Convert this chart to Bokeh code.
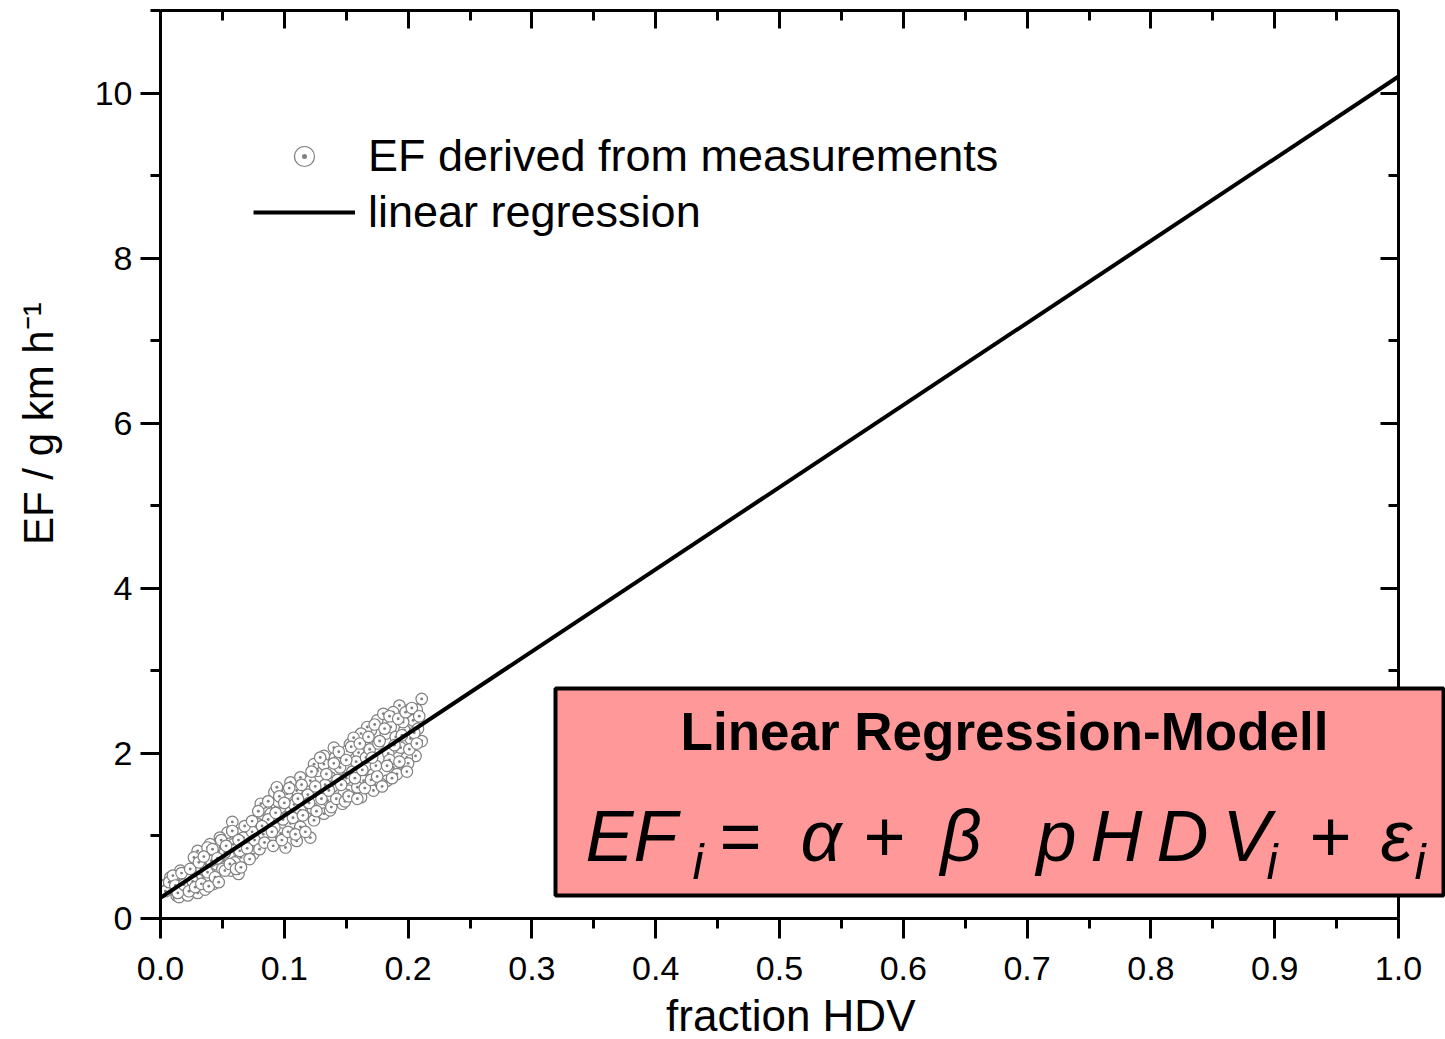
from bokeh.plotting import figure
from bokeh.models import (Range1d, LinearAxis, SingleIntervalTicker, PrintfTickFormatter,
                          CustomJSTickFormatter, BoxAnnotation, Label, Legend, LegendItem)
from bokeh.embed import file_html
from bokeh.resources import INLINE

# ---------------- data ----------------
meas_x = [0.211, 0.211, 0.206, 0.195, 0.207, 0.199, 0.193, 0.188, 0.182, 0.170, 0.160, 0.132,
          0.141, 0.147, 0.121, 0.110, 0.101, 0.105, 0.092, 0.085, 0.058, 0.054, 0.043, 0.057,
          0.063, 0.026, 0.008, 0.009, 0.013, 0.027, 0.035, 0.030, 0.040, 0.048, 0.069, 0.071,
          0.081, 0.089, 0.075, 0.097, 0.101, 0.113, 0.123, 0.118, 0.127, 0.137, 0.145, 0.132,
          0.135, 0.152, 0.162, 0.164, 0.172, 0.183, 0.188, 0.188, 0.194, 0.175, 0.180, 0.167,
          0.153, 0.151, 0.140, 0.124, 0.113, 0.094, 0.081, 0.070, 0.062, 0.048, 0.038, 0.027,
          0.016, 0.011, 0.019, 0.040, 0.032, 0.051, 0.065, 0.078, 0.086, 0.105, 0.113, 0.124,
          0.137, 0.148, 0.159, 0.172, 0.178, 0.191, 0.199, 0.204, 0.197, 0.186, 0.162, 0.156,
          0.145, 0.132, 0.121, 0.110, 0.102, 0.097, 0.089, 0.078, 0.067, 0.059, 0.043, 0.032,
          0.022, 0.005, 0.024, 0.016, 0.030, 0.012, 0.018, 0.021, 0.025, 0.029, 0.034, 0.037,
          0.045, 0.050, 0.055, 0.060, 0.066, 0.073, 0.083, 0.092, 0.099, 0.108, 0.116, 0.128,
          0.139, 0.143, 0.155, 0.158, 0.166, 0.169, 0.176, 0.184, 0.190, 0.196, 0.202, 0.208,
          0.200, 0.185, 0.174, 0.150, 0.133, 0.119, 0.095, 0.087, 0.074, 0.064, 0.052, 0.041,
          0.033, 0.020, 0.015, 0.006, 0.015, 0.022, 0.030, 0.036,
          0.004, 0.007, 0.010, 0.012, 0.014, 0.017, 0.019, 0.023, 0.024, 0.026, 0.028, 0.031,
          0.033, 0.035, 0.038, 0.039, 0.042, 0.044, 0.046, 0.047, 0.049, 0.052, 0.053, 0.056,
          0.058, 0.061, 0.063, 0.065, 0.068, 0.070, 0.072, 0.074, 0.076, 0.079, 0.080, 0.082,
          0.084, 0.087, 0.090, 0.091, 0.093, 0.096, 0.098, 0.100, 0.103, 0.104, 0.107, 0.109,
          0.111, 0.114, 0.115, 0.117, 0.120, 0.122, 0.125, 0.126, 0.129, 0.130, 0.134, 0.136,
          0.138, 0.140, 0.142, 0.144, 0.146, 0.149, 0.150, 0.152, 0.154, 0.157, 0.159, 0.161,
          0.163, 0.165, 0.168, 0.170, 0.171, 0.173, 0.175, 0.177, 0.179, 0.181, 0.183, 0.185,
          0.187, 0.189, 0.192, 0.193, 0.195, 0.198, 0.199, 0.201, 0.203, 0.205, 0.207, 0.209]
meas_y = [2.66, 2.15, 1.97, 1.82, 2.53, 2.52, 2.58, 2.50, 2.24, 2.28, 2.01, 1.97,
          1.95, 1.39, 0.98, 0.94, 0.86, 1.65, 1.53, 1.35, 1.17, 1.04, 0.42, 0.58,
          0.54, 0.58, 0.50, 0.38, 0.28, 0.34, 0.46, 0.82, 0.90, 0.86, 0.80, 1.04,
          1.19, 0.94, 0.78, 1.03, 1.29, 1.31, 1.33, 1.67, 1.79, 1.71, 1.83, 1.27,
          1.43, 1.55, 1.47, 1.67, 1.75, 1.67, 1.83, 2.07, 2.07, 2.40, 2.48, 2.32,
          2.11, 2.03, 2.07, 1.87, 1.71, 1.59, 1.39, 1.11, 1.03, 0.98, 0.86, 0.74,
          0.58, 0.46, 0.30, 0.62, 0.54, 0.70, 0.74, 0.90, 1.07, 1.15, 1.11, 1.19,
          1.31, 1.51, 1.59, 1.55, 1.63, 1.75, 1.95, 2.40, 2.28, 2.32, 2.24, 2.19,
          1.95, 1.87, 1.67, 1.55, 1.51, 1.35, 1.27, 1.15, 0.98, 0.90, 0.78, 0.66,
          0.50, 0.42, 0.42, 0.38, 0.46, 0.34, 0.44, 0.36, 0.48, 0.40, 0.52, 0.44,
          0.66, 0.60, 0.76, 0.68, 0.88, 0.92, 1.02, 1.10, 1.20, 1.38, 1.45, 1.52,
          1.60, 1.68, 1.78, 1.90, 1.95, 2.05, 2.12, 2.00, 2.20, 2.38, 2.18, 2.30,
          1.88, 1.92, 1.85, 1.70, 1.62, 1.50, 1.42, 1.20, 1.05, 0.82, 0.80, 0.70,
          0.60, 0.52, 0.46, 0.36, 0.26, 0.28, 0.31, 0.35,
          0.33, 0.44, 0.52, 0.40, 0.31, 0.55, 0.41, 0.33, 0.60, 0.45, 0.38, 0.68,
          0.42, 0.75, 0.56, 0.39, 0.84, 0.50, 0.73, 0.44, 0.95, 0.58, 0.88, 0.66,
          1.06, 0.60, 0.95, 0.62, 1.12, 0.85, 0.72, 1.18, 0.95, 1.30, 0.84, 1.12,
          0.92, 1.42, 1.05, 0.88, 1.28, 1.48, 0.95, 1.40, 1.05, 1.58, 1.22, 1.02,
          1.45, 1.62, 1.25, 1.05, 1.40, 1.78, 1.60, 1.30, 1.95, 1.45, 1.75, 1.55,
          1.35, 1.88, 1.45, 2.02, 1.62, 1.42, 1.92, 1.48, 2.08, 1.70, 1.45, 2.12,
          1.80, 1.58, 2.20, 1.68, 1.95, 2.35, 1.72, 2.15, 1.60, 2.30, 1.85, 2.45,
          1.70, 2.10, 2.42, 1.90, 2.22, 2.50, 1.78, 2.05, 2.55, 2.25, 2.12, 2.45]

reg_x = [0.0, 1.0]
reg_y = [0.25, 10.2]

legend_labels = ["EF derived from measurements", "linear regression"]
x_title = "fraction HDV"
y_title = "EF / g km h\u207b\u00b9"
box_title = "Linear Regression-Modell"
# equation pieces: kind "m" main, "s" subscript
eq_text = ["EF", "i", "=", "\u03b1", "+", "\u03b2", "p", "H", "D", "V", "i", "+", "\u03b5", "i"]
eq_kind = ["m", "s", "m", "m", "m", "m", "m", "m", "m", "m", "s", "m", "m", "s"]

# ---------------- layout ----------------
FL, FR, FT, FB = 160, 1398, 10, 918      # pixel box of the axes (x 0..1, y 0..11)
W, H = 1445, 1039
X0, X1 = 0.0, 1.0
Y0, Y1 = 0.0, 11.0
FONT = "Liberation Sans"


def xd(px):
    return X0 + (px - FL) / (FR - FL) * (X1 - X0)


def yd(py):
    return Y0 + (FB - py) / (FB - FT) * (Y1 - Y0)


p = figure(frame_width=W - FL, frame_height=FB - FT,
           x_range=Range1d(X0, xd(W)), y_range=Range1d(Y0, Y1),
           output_backend="svg", toolbar_location=None,
           min_border_left=FL, min_border_right=0,
           min_border_top=FT, min_border_bottom=H - FB,
           x_axis_type=None, y_axis_type=None)
p.outline_line_color = None
p.background_fill_color = "white"
p.border_fill_color = "white"
p.xgrid.visible = False
p.ygrid.visible = False

xt = SingleIntervalTicker(interval=0.1, num_minor_ticks=2)
yt = SingleIntervalTicker(interval=2, num_minor_ticks=2)
xfmt = PrintfTickFormatter(format="%.1f")
yfmt = PrintfTickFormatter(format="%d")
nofmt = CustomJSTickFormatter(code="return '';")


def style(ax, outside, labels):
    ax.axis_line_width = 3
    ax.axis_line_color = "black"
    ax.major_tick_line_width = 3
    ax.minor_tick_line_width = 3
    ax.major_tick_line_color = "black"
    ax.minor_tick_line_color = "black"
    if outside:
        ax.major_tick_out, ax.major_tick_in = 20, 0
        ax.minor_tick_out, ax.minor_tick_in = 10, 0
    else:
        ax.major_tick_out, ax.major_tick_in = 0, 18
        ax.minor_tick_out, ax.minor_tick_in = 0, 10
    if labels:
        ax.major_label_text_font = FONT
        ax.major_label_text_font_size = "34px"
        ax.major_label_text_color = "black"
    else:
        ax.major_label_text_font_size = "1px"
        ax.major_label_standoff = 0


bottom = LinearAxis(ticker=xt, formatter=xfmt, bounds=(X0, X1))
left = LinearAxis(ticker=yt, formatter=yfmt)
top = LinearAxis(ticker=xt, formatter=nofmt, bounds=(X0, X1))
right = LinearAxis(ticker=yt, formatter=nofmt, fixed_location=X1)
style(bottom, True, True)
style(left, True, True)
style(top, False, False)
style(right, False, False)
bottom.major_label_standoff = 18
left.major_label_standoff = 8

bottom.axis_label = x_title + "\u00a0\u00a0"
bottom.axis_label_text_font = FONT
bottom.axis_label_text_font_size = "44px"
bottom.axis_label_text_font_style = "normal"
bottom.axis_label_text_color = "black"
bottom.axis_label_standoff = 8

left.axis_label = "\u00a0" * 7 + y_title
left.axis_label_text_font = FONT
left.axis_label_text_font_size = "42px"
left.axis_label_text_font_style = "normal"
left.axis_label_text_color = "black"
left.axis_label_standoff = 30

p.add_layout(bottom, "below")
p.add_layout(left, "left")
p.add_layout(top, "above")
p.add_layout(right, "right")

sc = p.scatter(meas_x, meas_y, marker="circle_dot", size=11.5, line_color="#808080",
               fill_color="white", line_width=1.2)
ln = p.line(reg_x, reg_y, line_color="black", line_width=4)

legend = Legend(items=[LegendItem(label=legend_labels[0], renderers=[sc]),
                       LegendItem(label=legend_labels[1], renderers=[ln])],
                location=(93, 680), glyph_width=102, glyph_height=50, label_height=50,
                label_standoff=13, spacing=4, padding=0, margin=0,
                border_line_color=None, background_fill_alpha=0,
                label_text_font=FONT, label_text_font_size="45px", label_text_color="black")
p.add_layout(legend)

# model box
p.add_layout(BoxAnnotation(left=xd(555), right=xd(1443), top=yd(688), bottom=yd(895),
                           fill_color="#FF9999", fill_alpha=1.0,
                           line_color="black", line_width=4, line_alpha=1.0))

BASE_FIX = 0.37  # label baseline correction (fraction of font size)


def add_text(txt, px, py, size, style_, align="left"):
    p.add_layout(Label(x=xd(px), y=yd(py - BASE_FIX * size), text=txt, text_align=align,
                       text_baseline="alphabetic", text_font=FONT,
                       text_font_size=f"{size}px", text_font_style=style_,
                       text_color="black"))


add_text(box_title, 1004, 751, 53, "bold", "center")

eq_px = [585, 692, 718, 800, 862, 940, 1036, 1090, 1156, 1222, 1266, 1308, 1380, 1414]
for txt, kind, px in zip(eq_text, eq_kind, eq_px):
    if kind == "m":
        add_text(txt, px, 862, 72, "italic")
    else:
        add_text(txt, px, 880, 50, "italic")

open("out.html", "w").write(file_html(p, INLINE))
